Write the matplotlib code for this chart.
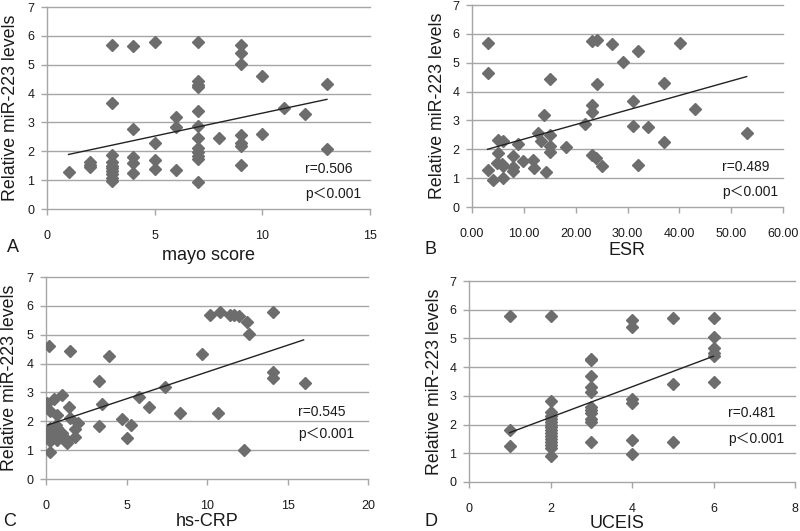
import numpy as np
import matplotlib
matplotlib.use('Agg')
import matplotlib.pyplot as plt

plt.rcParams['font.family'] = ['Liberation Sans', 'Noto Sans CJK SC']

# --- data ---
# A: mayo score
mayo_x = [1, 2, 2, 2, 3, 3, 3, 3, 3, 3, 3, 3, 3, 3,
          4, 4, 4, 4, 4, 5, 5, 5, 5, 6, 6, 6,
          7, 7, 7, 7, 7, 7, 7, 7, 7, 7, 7, 7, 8,
          9, 9, 9, 9, 9, 9, 9, 10, 10, 11, 12, 13, 13]
mayo_y = [1.27, 1.62, 1.52, 1.46, 5.70, 3.68, 1.88, 1.62, 1.50, 1.42, 1.32, 1.20, 1.08, 0.96,
          5.65, 2.78, 1.80, 1.58, 1.24, 5.78, 2.28, 1.70, 1.38, 3.18, 2.84, 1.36,
          5.78, 4.45, 4.30, 4.22, 3.38, 2.87, 2.45, 2.10, 1.96, 1.82, 1.74, 0.92, 2.47,
          5.70, 5.42, 5.03, 2.57, 2.30, 2.18, 1.53, 4.62, 2.60, 3.50, 3.30, 4.32, 2.08]
mayo_fit_x = [1, 13]
mayo_fit_y = [1.89, 3.80]

# B: ESR
esr_x = [3, 4, 5.1, 6, 5.1, 4.8, 5.7, 6, 5.9, 8, 8, 8, 8.9, 9.9, 11.8, 12, 12.8,
         13.4, 13.9, 14.2, 15.1, 15.1, 15.1, 18.1, 21.8, 23.1, 23.1, 23.1, 23.9, 25,
         3, 3, 15.1, 23.1, 24.1, 24.1, 27, 29.1, 32.1, 31.1, 31.1, 34, 32.1, 37.1,
         37.1, 40.2, 43, 53]
esr_y = [1.29, 0.94, 2.32, 2.28, 1.88, 1.53, 1.49, 1.42, 0.99, 1.78, 1.40, 1.26, 2.20,
         1.60, 1.62, 1.36, 2.58, 2.30, 3.20, 1.21, 2.48, 2.12, 1.92, 2.09, 2.88, 3.52,
         3.30, 1.80, 1.70, 1.42,
         5.69, 4.63, 4.43, 5.76, 5.77, 4.25, 5.64, 5.03, 5.42, 3.68, 2.82, 2.76,
         1.45, 4.31, 2.26, 5.67, 3.38, 2.57]
esr_fit_x = [3, 53]
esr_fit_y = [2.00, 4.52]

# C: hs-CRP
crp_x = [0.17, 1.5, 3.9, 3.3, 3.5, 3.3, 5.8, 6.4, 7.4, 8.3, 4.7, 5.3, 5.0, 9.7,
         10.2, 10.8, 11.4, 11.7, 12.0, 12.5, 12.6, 10.7, 12.3, 14.1, 14.1, 14.1, 16.1,
         0.06, 0.5, 1.0, 0.27, 0.7, 1.4, 1.5, 1.96, 1.8, 1.8, 1.3, 1.3, 1.0,
         0.27, 0.27, 0.27, 0.27, 0.7, 0.7, 0.7, 0.23, 0.6, 0.45, 1.1]
crp_y = [4.62, 4.44, 4.27, 3.41, 2.60, 1.82, 2.84, 2.51, 3.18, 2.28, 2.08, 1.88, 1.42, 4.32,
         5.70, 5.79, 5.70, 5.68, 5.66, 5.45, 5.04, 2.28, 0.99, 5.79, 3.70, 3.49, 3.31,
         2.62, 2.78, 2.90, 2.34, 2.22, 2.48, 2.11, 1.94, 1.72, 1.47, 1.36, 1.24, 1.59,
         1.76, 1.59, 1.44, 1.30, 1.76, 1.53, 1.36, 0.93, 1.88, 1.50, 1.40]
crp_fit_x = [0.1, 16]
crp_fit_y = [1.87, 4.82]

# D: UCEIS
uceis_x = [1, 1, 1,
           2, 2, 2, 2, 2, 2, 2, 2, 2, 2, 2, 2, 2, 2, 2, 2,
           3, 3, 3, 3, 3, 3, 3, 3, 3, 3, 3,
           4, 4, 4, 4, 4, 4, 5, 5, 5, 6, 6, 6, 6, 6, 6]
uceis_y = [5.77, 1.80, 1.24,
           5.78, 2.82, 2.45, 2.30, 2.20, 2.10, 2.00, 1.90, 1.80, 1.70, 1.60, 1.50, 1.40, 1.30, 1.20, 0.92,
           4.30, 4.24, 3.68, 3.30, 3.15, 2.60, 2.50, 2.40, 2.20, 2.10, 1.40,
           5.65, 5.40, 2.88, 2.75, 1.47, 0.98, 5.70, 3.40, 1.40, 5.70, 5.05, 4.65, 4.50, 4.40, 3.50]
uceis_fit_x = [1, 6]
uceis_fit_y = [1.72, 4.38]

# panel settings: (x, y, fit_x, fit_y, xlabel, letter, r text, xticks, tick fmt)
panels = [
    (mayo_x, mayo_y, mayo_fit_x, mayo_fit_y, 'mayo score', 'A', 'r=0.506', np.arange(0, 16, 5), '{:g}'),
    (esr_x, esr_y, esr_fit_x, esr_fit_y, 'ESR', 'B', 'r=0.489', np.arange(0, 61, 10), '{:.2f}'),
    (crp_x, crp_y, crp_fit_x, crp_fit_y, 'hs-CRP', 'C', 'r=0.545', np.arange(0, 21, 5), '{:g}'),
    (uceis_x, uceis_y, uceis_fit_x, uceis_fit_y, 'UCEIS', 'D', 'r=0.481', np.arange(0, 9, 2), '{:g}'),
]

# axes boxes in pixels (left, right, top, bottom) on a 800x531 canvas
boxes = [(47, 370, 7, 209), (472, 783, 5, 207), (46, 368, 277, 479), (469, 795, 281, 482)]
r_pos = [(0.80, 0.197, 0.074), (0.803, 0.20, 0.076), (0.783, 0.334, 0.224), (0.795, 0.342, 0.215)]
# label centres in pixels (x of ylabel, y of xlabel, x of xlabel)
ylab_px = [11, 437, 10, 434]
xlab_px = [(209, 255), (627, 250), (207, 521), (617, 523)]
letter_pos = [(7, 248), (425, 250), (3, 522), (425, 522)]

W, H = 800, 531
fig = plt.figure(figsize=(8, 5.31), dpi=100, facecolor='w')

grid_c = '#a6a6a6'
pt_c = '#6d6d6d'
txt_c = '#1a1a1a'

for i, (x, y, fx, fy, xlab, letter, rtxt, xt, fmt) in enumerate(panels):
    l, r, t, b = boxes[i]
    ax = fig.add_axes([l / W, 1 - b / H, (r - l) / W, (b - t) / H])
    ax.set_xlim(xt[0], xt[-1])
    ax.set_ylim(0, 7)
    ax.set_yticks(range(0, 8))
    ax.set_xticks(xt)
    ax.set_xticklabels([fmt.format(v) for v in xt])
    for yv in range(1, 8):
        ax.axhline(yv, color=grid_c, lw=1.0, zorder=0, clip_on=False)
    for s in ['top', 'right']:
        ax.spines[s].set_visible(False)
    for s in ['left', 'bottom']:
        ax.spines[s].set_color(grid_c)
        ax.spines[s].set_linewidth(1.0)
    ax.tick_params(axis='both', colors=grid_c, labelcolor=txt_c, labelsize=9, length=4, width=1)
    ax.tick_params(axis='x', pad=11)
    ax.tick_params(axis='y', pad=5)

    ax.plot(x, y, ls='none', marker='D', ms=6, color=pt_c, mec=pt_c, zorder=3)
    ax.plot(fx, fy, color='#222222', lw=1.0, zorder=4)

    ax.set_xlabel(xlab, fontsize=13, color=txt_c, va='center')
    xc, yc = xlab_px[i]
    ax.xaxis.set_label_coords((xc - l) / (r - l), (b - yc) / (b - t))
    ax.set_ylabel('Relative miR-223 levels', fontsize=12.8, color=txt_c, va='center')
    ax.yaxis.set_label_coords((ylab_px[i] - l) / (r - l), 0.5)

    rx, ry, py = r_pos[i]
    ax.text(rx, ry, rtxt, transform=ax.transAxes, fontsize=10, color=txt_c, va='center', ha='left')
    ax.text(rx, py, 'p\uff1c0.001', transform=ax.transAxes, fontsize=10, color=txt_c, va='center', ha='left')

    lx, ly = letter_pos[i]
    fig.text(lx / W, 1 - ly / H, letter, fontsize=13, color=txt_c, va='center', ha='left')

fig.savefig('out.png', dpi=100, facecolor='w')
